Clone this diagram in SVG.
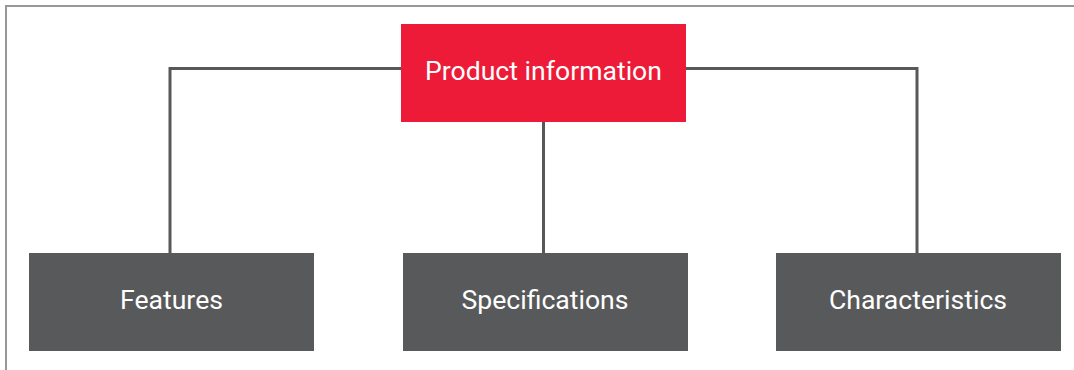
<svg xmlns="http://www.w3.org/2000/svg" width="1074" height="370" viewBox="0 0 1074 370">
  <style>
    .frame { fill: #ffffff; stroke: #98989b; stroke-width: 2; }
    .link { fill: none; stroke: #58585a; stroke-width: 3; }
    .root { fill: #ed1b37; }
    .leaf { fill: #58595b; }
    .label { font-family: Roboto, "Liberation Sans", sans-serif; font-size: 26.6px; fill: #ffffff; text-anchor: middle; }
  </style>
  <rect width="1074" height="370" fill="#ffffff"/>
  <rect class="frame" x="6" y="6" width="1080" height="380"/>
  <g id="connectors">
    <polyline class="link" points="170,253 170,68.5 917,68.5 917,253"/>
    <line class="link" x1="543.5" y1="122" x2="543.5" y2="253"/>
  </g>
  <g id="product-information">
    <rect class="root" x="401" y="24" width="285" height="98"/>
    <text class="label" x="543.5" y="80">Product information</text>
  </g>
  <g id="features">
    <rect class="leaf" x="29" y="253" width="285" height="98"/>
    <text class="label" x="171.5" y="309">Features</text>
  </g>
  <g id="specifications">
    <rect class="leaf" x="403" y="253" width="285" height="98"/>
    <text class="label" x="545" y="309">Specifications</text>
  </g>
  <g id="characteristics">
    <rect class="leaf" x="776" y="253" width="285" height="98"/>
    <text class="label" x="918" y="309">Characteristics</text>
  </g>
</svg>
